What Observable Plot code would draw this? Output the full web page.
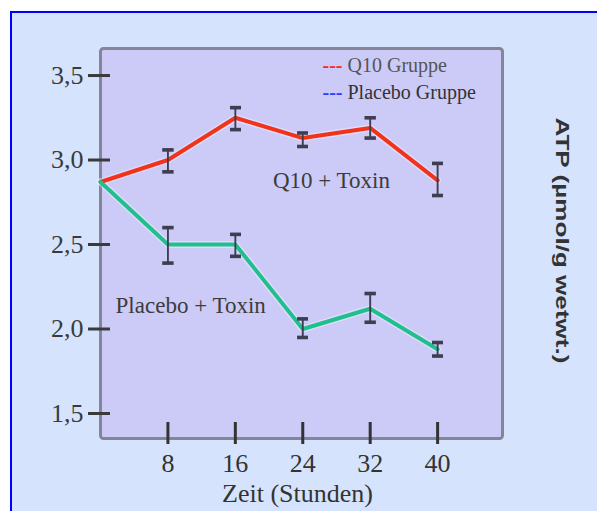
<!DOCTYPE html>
<html><head><meta charset="utf-8">
<script src="https://cdn.jsdelivr.net/npm/d3@7"></script>
<script src="https://cdn.jsdelivr.net/npm/@observablehq/plot@0.6"></script>
<style>
html,body{margin:0;padding:0;background:#fff;}
#wrap{position:relative;width:597px;height:511px;overflow:hidden;}
#bg{position:absolute;left:10px;top:11px;width:600px;height:520px;background:#d5e4fc;border-left:2px solid #0000ff;border-top:2px solid #0000ff;}
#chart{position:absolute;left:0;top:0;}
</style></head><body>
<div id="wrap"><div id="bg"></div><div id="chart"></div></div>
<script>
// Data
const hours = [0, 8, 16, 24, 32, 40];
const q10 = [2.87, 3.0, 3.25, 3.13, 3.19, 2.88];
const placebo = [2.87, 2.5, 2.5, 2.0, 2.12, 1.88];
const errHours = [8, 16, 24, 32, 40];
const q10Low = [2.93, 3.18, 3.08, 3.13, 2.79];
const q10High = [3.06, 3.31, 3.16, 3.25, 2.98];
const placeboLow = [2.39, 2.43, 1.95, 2.04, 1.84];
const placeboHigh = [2.60, 2.56, 2.06, 2.21, 1.92];
const yTicks = [1.5, 2.0, 2.5, 3.0, 3.5];
const xTicks = [8, 16, 24, 32, 40];
const legendLabels = ["Q10 Gruppe", "Placebo Gruppe"];
const legendColors = ["#ff2a1a", "#2a3cff"];
const annLabels = ["Q10 + Toxin", "Placebo + Toxin"];
const annX = [27.4, 10.7];
const annY = [2.88, 2.14];
const xLabel = "Zeit (Stunden)";
const yLabel = "ATP (µmol/g wetwt.)";

const red = "#f0341c", green = "#20bf8e";
const q10Rows = hours.map((h, i) => ({hour: h, value: q10[i]}));
const plRows = hours.map((h, i) => ({hour: h, value: placebo[i]}));
const errRows = errHours.flatMap((h, i) => [
  {hour: h, low: q10Low[i], high: q10High[i]},
  {hour: h, low: placeboLow[i], high: placeboHigh[i]}
]);
const annRows = annLabels.map((t, i) => ({label: t, x: annX[i], y: annY[i]}));
const serif = "'Liberation Serif', 'Times New Roman', serif";

const chart = Plot.plot({
  width: 597, height: 511,
  marginLeft: 100, marginRight: 95, marginTop: 48, marginBottom: 73,
  style: {background: "transparent", fontFamily: serif, overflow: "visible"},
  x: {domain: [0, 47.7]},
  y: {domain: [1.352, 3.66]},
  marks: [
    Plot.frame({fill: "#cccaf7", stroke: "#85859a", strokeWidth: 3, rx: 3}),
    Plot.axisY(yTicks, {tickSize: 22, dx: 10, tickPadding: 5, tickFormat: d => d.toFixed(1).replace(".", ","),
      fontSize: 26, fontFamily: serif, color: "#3a3a3a", strokeWidth: 3, label: null}),
    Plot.axisX(xTicks, {tickSize: 22, dy: -16, tickPadding: 9, fontSize: 26, fontFamily: serif,
      color: "#333", strokeWidth: 3, label: null}),
    Plot.line(q10Rows, {x: "hour", y: "value", stroke: "#ffffff", strokeOpacity: 0.35, strokeWidth: 7}),
    Plot.line(plRows, {x: "hour", y: "value", stroke: "#ffffff", strokeOpacity: 0.35, strokeWidth: 7}),
    Plot.line(q10Rows, {x: "hour", y: "value", stroke: red, strokeWidth: 4}),
    Plot.line(plRows, {x: "hour", y: "value", stroke: green, strokeWidth: 4}),
    Plot.link(errRows, {x1: "hour", x2: "hour", y1: "low", y2: "high", stroke: "#3e3e50", strokeWidth: 1.9, marker: "tick-x"}),
    Plot.text(annRows, {x: "x", y: "y", text: "label", fontSize: 23, fill: "#3c3c3c", textAnchor: "middle", lineAnchor: "middle", fontFamily: serif}),
    Plot.text(["---"], {frameAnchor: "top-left", dx: 222, dy: 17, fill: legendColors[0], fontSize: 20, fontWeight: "bold", textAnchor: "start", lineAnchor: "middle", fontFamily: serif}),
    Plot.text(["---"], {frameAnchor: "top-left", dx: 222, dy: 44, fill: legendColors[1], fontSize: 20, fontWeight: "bold", textAnchor: "start", lineAnchor: "middle", fontFamily: serif}),
    Plot.text([legendLabels[0]], {frameAnchor: "top-left", dx: 247, dy: 17, fill: "#555", fontSize: 20, textAnchor: "start", lineAnchor: "middle", fontFamily: serif}),
    Plot.text([legendLabels[1]], {frameAnchor: "top-left", dx: 247, dy: 44, fill: "#333", fontSize: 20, textAnchor: "start", lineAnchor: "middle", fontFamily: serif}),
    Plot.text([xLabel], {frameAnchor: "bottom", dx: -4, dy: 55, fontSize: 26, fill: "#333", textAnchor: "middle", lineAnchor: "middle", fontFamily: serif}),
    Plot.text([yLabel], {frameAnchor: "right", dx: 59, dy: -3, rotate: 90, fontSize: 18, fontWeight: "bold",
      fill: "#333", textAnchor: "middle", lineAnchor: "middle", fontFamily: "'Liberation Sans', Arial, sans-serif"})
  ]
});
document.getElementById("chart").appendChild(chart);
chart.querySelectorAll("text").forEach(t => {
  if (t.textContent === yLabel) {
    t.setAttribute("textLength", 246);
    t.setAttribute("lengthAdjust", "spacingAndGlyphs");
  }
});
</script>
</body></html>
